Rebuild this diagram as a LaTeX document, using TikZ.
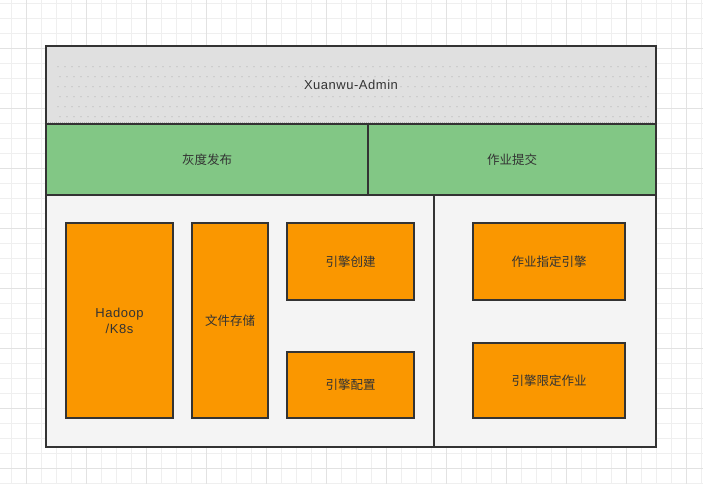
\documentclass[tikz,border=0pt]{standalone}
\usepackage{fontspec}
\setmainfont{Liberation Sans}[LetterSpace=4]
\newfontfamily\cjk{Noto Sans CJK SC}
\definecolor{gridminor}{HTML}{EFEFEF}
\definecolor{gridmajor}{HTML}{E2E2E2}
\definecolor{hdrgray}{HTML}{E0E0E0}
\definecolor{dotgray}{HTML}{B4B4B4}
\definecolor{grn}{HTML}{82C785}
\definecolor{org}{HTML}{FA9700}
\definecolor{panel}{HTML}{F4F4F4}
\definecolor{edge}{HTML}{333333}
\definecolor{txt}{HTML}{333333}
\tikzset{
  region/.style={draw=edge, line width=2pt},
  obox/.style={draw=edge, line width=2pt, fill=org},
  lbl/.style={text=txt, font=\fontsize{13}{16}\selectfont, align=center, inner sep=0pt},
  clbl/.style={text=txt, font=\fontsize{12.5}{16}\selectfont\cjk, align=center, inner sep=0pt},
}
\begin{document}
\begin{tikzpicture}[x=1pt,y=-1pt]
\useasboundingbox (0,0) rectangle (703,484);
\fill[white] (0,0) rectangle (703,484);
% grid
\foreach \i in {0,...,46} {
  \draw[gridminor, line width=1pt] ({11.7+15*\i},0) -- ({11.7+15*\i},484);
}
\foreach \i in {0,...,32} {
  \draw[gridminor, line width=1pt] (0,{3.3+15*\i}) -- (703,{3.3+15*\i});
}
\foreach \i in {0,...,11} {
  \draw[gridmajor, line width=1pt] ({26.7+60*\i},0) -- ({26.7+60*\i},484);
}
\foreach \i in {0,...,7} {
  \draw[gridmajor, line width=1pt] (0,{48.3+60*\i}) -- (703,{48.3+60*\i});
}
% header
\fill[hdrgray] (46,46) rectangle (656,124);
\foreach \r in {0,...,5} {
  \foreach \c in {0,...,84} {
    \fill[dotgray] ({58+7*\c+mod(\r,2)*2},{66.7+10*\r}) circle (0.6);
  }
}
\draw[dotgray, line width=0.8pt, dash pattern=on 0.8pt off 1.2pt] (48,122.5) -- (654,122.5);
\node[lbl, fill=hdrgray, inner sep=1.5pt] (admin) at (351,85) {Xuanwu-Admin};
\draw[region] (46,46) rectangle (656,124);
% green row
\draw[region, fill=grn] (46,124) rectangle (368,195);
\draw[region, fill=grn] (368,124) rectangle (656,195);
\node[clbl] (gray) at (207,160) {灰度发布};
\node[clbl] (submit) at (512,160) {作业提交};
% bottom panels
\draw[region, fill=panel] (46,195) rectangle (434,447);
\draw[region, fill=panel] (434,195) rectangle (656,447);
% orange boxes
\draw[obox] (66,223) rectangle (173,418);
\node[lbl] (hadoop) at (119.5,321) {Hadoop\\/K8s};
\draw[obox] (192,223) rectangle (268,418);
\node[clbl] (store) at (230,321) {文件存储};
\draw[obox] (287,223) rectangle (414,300);
\node[clbl] (create) at (350.5,261.5) {引擎创建};
\draw[obox] (287,352) rectangle (414,418);
\node[clbl] (config) at (350.5,385) {引擎配置};
\draw[obox] (473,223) rectangle (625,300);
\node[clbl] (assign) at (549,261.5) {作业指定引擎};
\draw[obox] (473,343) rectangle (625,418);
\node[clbl] (limit) at (549,380.5) {引擎限定作业};
\end{tikzpicture}
\end{document}
